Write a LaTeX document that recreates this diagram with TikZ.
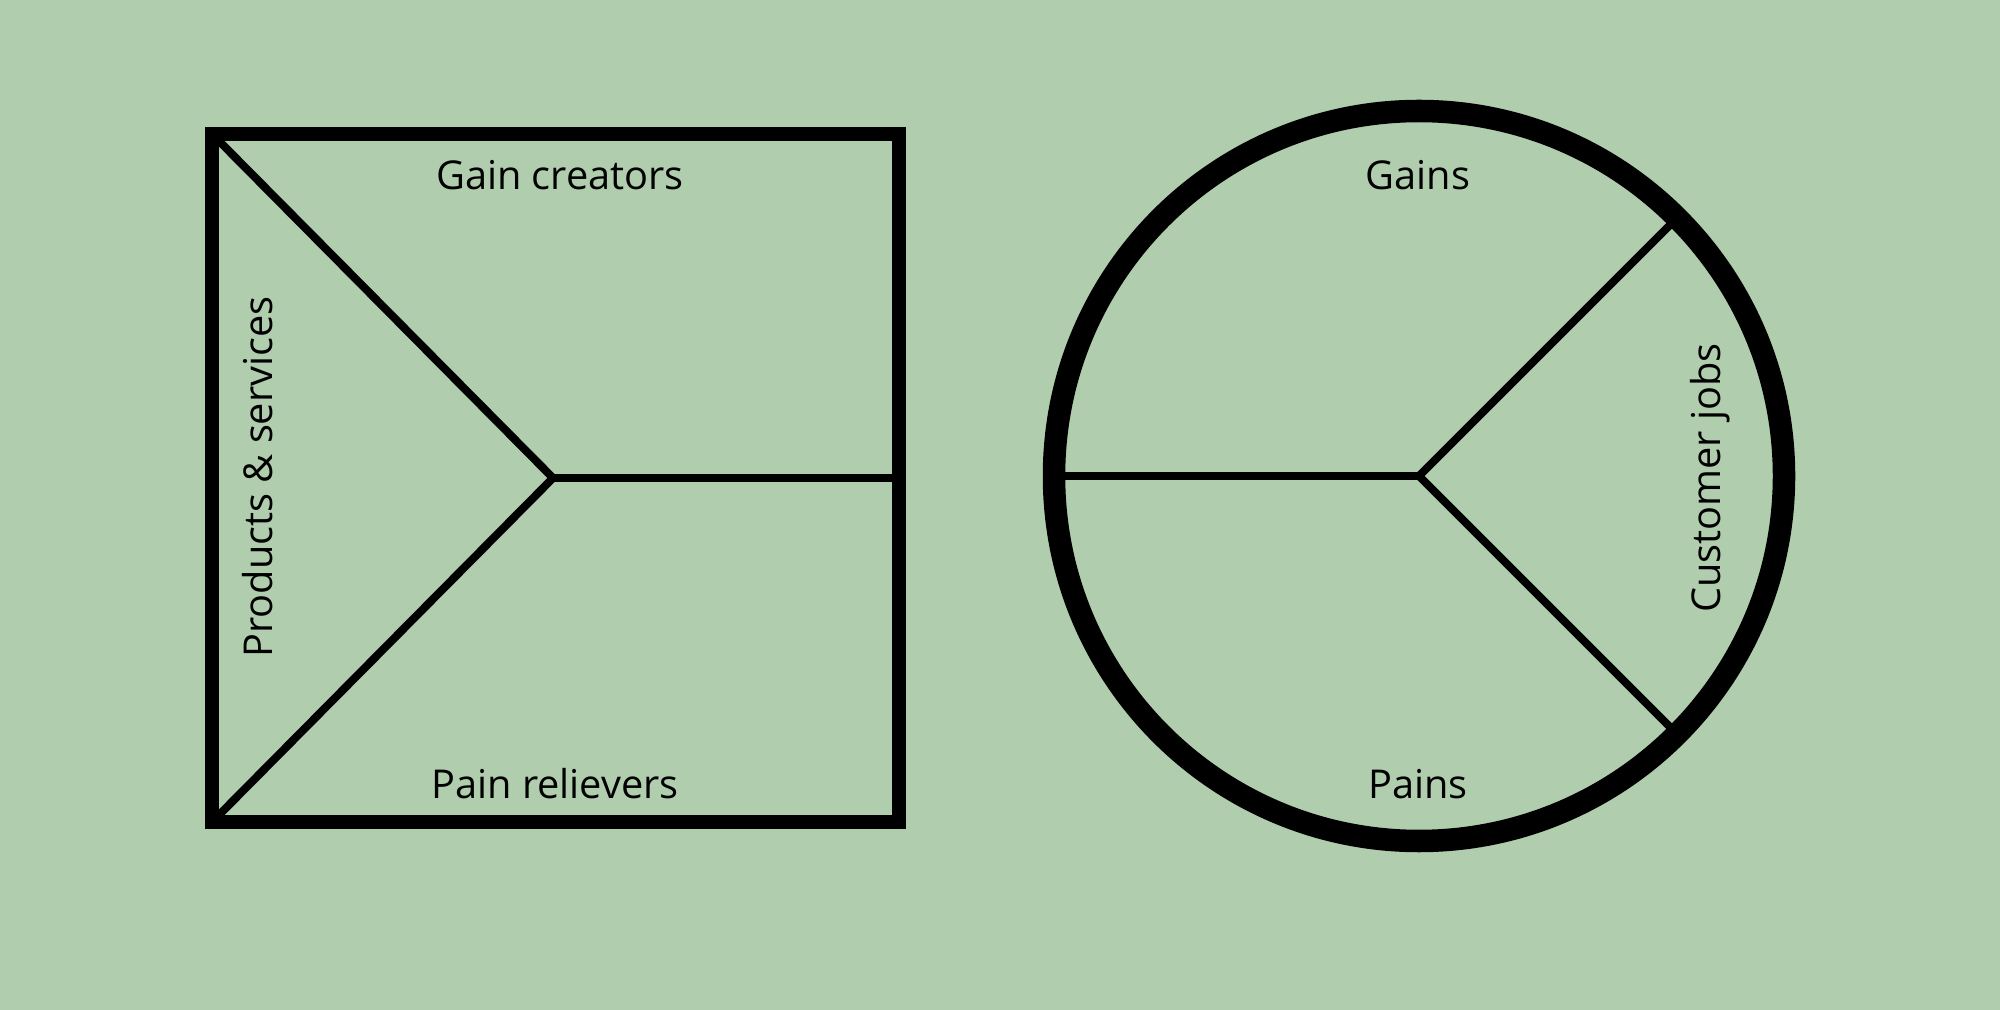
\documentclass[tikz,border=0pt]{standalone}
\usepackage{fontspec}
\setmainfont{Open Sans}
\usetikzlibrary{calc}
\definecolor{canvasgreen}{RGB}{176,206,174}
\tikzset{
  frame/.style={line width=0.14cm},
  ring/.style={line width=0.225cm},
  divider/.style={line width=0.08cm},
  label/.style={font=\fontsize{11.3}{13}\selectfont, inner sep=0pt, anchor=base}
}
\begin{document}
\begin{tikzpicture}[x=0.01cm, y=-0.01cm]
  \fill[canvasgreen] (0,0) rectangle (2000,1010);
  \useasboundingbox (0,0) rectangle (2000,1010);

  % Value map (square)
  \coordinate (sqtl) at (219,141);
  \coordinate (sqbl) at (219,815);
  \coordinate (sqmid) at (553,478);
  \coordinate (sqright) at (892,478);
  \draw[frame] (212,134) rectangle (899,822);
  \draw[divider] (sqtl) -- (sqmid);
  \draw[divider] (sqbl) -- (sqmid);
  \draw[divider] (sqmid) -- (sqright);

  \node[label] (gaincreators) at (560,190) {Gain creators};
  \node[label] (painrelievers) at (555,798) {Pain relievers};
  \node[label, rotate=90] (products) at (272,477) {Products \& services};

  % Customer profile (circle)
  \coordinate (cc) at (1419,476);
  \coordinate (ccwest) at ($(cc)+(-365,0)$);
  \coordinate (ccne) at ($(cc)+(258,-258)$);
  \coordinate (ccse) at ($(cc)+(258,258)$);
  \draw[ring] (cc) circle[radius=365];
  \draw[divider] (ccwest) -- (cc);
  \draw[divider] (cc) -- (ccne);
  \draw[divider] (cc) -- (ccse);

  \node[label] (gains) at (1418,190) {Gains};
  \node[label] (pains) at (1418,798) {Pains};
  \node[label, rotate=90] (jobs) at (1720,478) {Customer jobs};
\end{tikzpicture}
\end{document}
